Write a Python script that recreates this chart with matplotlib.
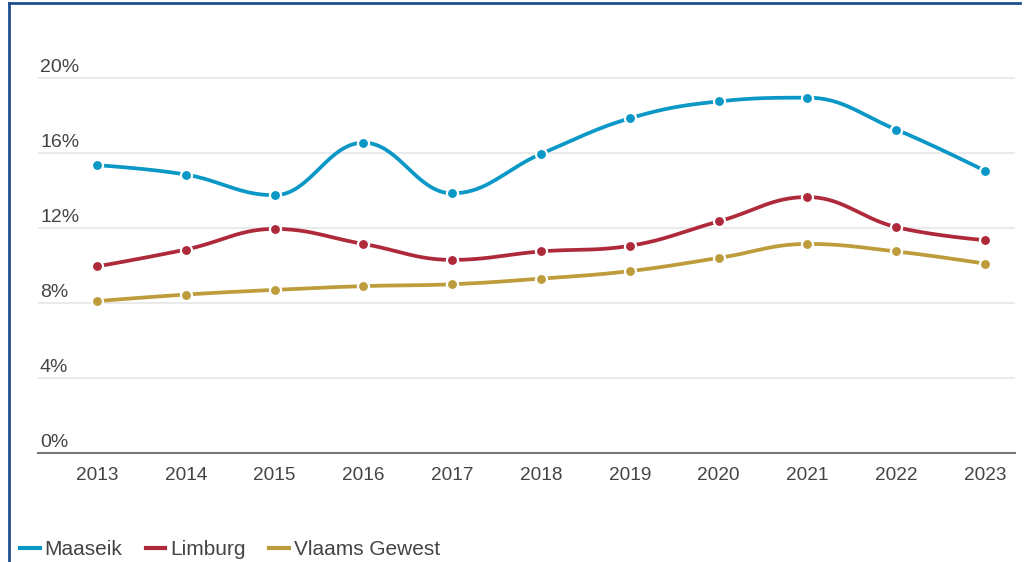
import numpy as np
import matplotlib
matplotlib.use("Agg")
import matplotlib.pyplot as plt
from matplotlib.lines import Line2D

years = [2013, 2014, 2015, 2016, 2017, 2018, 2019, 2020, 2021, 2022, 2023]
maaseik = [15.35, 14.85, 13.75, 16.55, 13.85, 15.95, 17.85, 18.75, 18.95, 17.25, 15.05]
limburg = [9.95, 10.85, 11.95, 11.15, 10.3, 10.75, 11.05, 12.35, 13.65, 12.05, 11.35]
vlaams = [8.1, 8.45, 8.7, 8.9, 9.0, 9.3, 9.7, 10.4, 11.15, 10.75, 10.1]
series_names = ["Maaseik", "Limburg", "Vlaams Gewest"]
colors = ["#0b98c6", "#ae2a3b", "#bd9c3b"]
y_ticks = [0, 4, 8, 12, 16, 20]

plt.rcParams['font.family'] = ['Liberation Sans', 'DejaVu Sans']


# spline like the web chart library draws it (smoothing 1.5, no false extremes)
def spline(xs, ys, n=40):
    xs = list(map(float, xs))
    ys = list(map(float, ys))
    k = len(xs)
    lc = [None] * k
    rc = [None] * k
    s = 1.5
    d = s + 1
    for i in range(1, k - 1):
        x, y = xs[i], ys[i]
        lx = (s * x + xs[i - 1]) / d
        ly = (s * y + ys[i - 1]) / d
        rx = (s * x + xs[i + 1]) / d
        ry = (s * y + ys[i + 1]) / d
        corr = (ry - ly) * (rx - x) / (rx - lx) + y - ry
        ly += corr
        ry += corr
        py, ny = ys[i - 1], ys[i + 1]
        if ly > py and ly > y:
            ly = max(py, y)
            ry = 2 * y - ly
        elif ly < py and ly < y:
            ly = min(py, y)
            ry = 2 * y - ly
        if ry > ny and ry > y:
            ry = max(ny, y)
            ly = 2 * y - ry
        elif ry < ny and ry < y:
            ry = min(ny, y)
            ly = 2 * y - ry
        lc[i] = (lx, ly)
        rc[i] = (rx, ry)
    px, py_ = [], []
    t = np.linspace(0, 1, n)
    for i in range(1, k):
        p0 = (xs[i - 1], ys[i - 1])
        p1 = rc[i - 1] if rc[i - 1] else p0
        p3 = (xs[i], ys[i])
        p2 = lc[i] if lc[i] else p3
        bx = (1 - t) ** 3 * p0[0] + 3 * (1 - t) ** 2 * t * p1[0] + 3 * (1 - t) * t ** 2 * p2[0] + t ** 3 * p3[0]
        by = (1 - t) ** 3 * p0[1] + 3 * (1 - t) ** 2 * t * p1[1] + 3 * (1 - t) * t ** 2 * p2[1] + t ** 3 * p3[1]
        px.extend(bx)
        py_.extend(by)
    return px, py_


W, H = 1024, 562
fig = plt.figure(figsize=(W / 100, H / 100), dpi=100)

# plot area in pixels
left, right, top, bottom = 38, 1015, 30, 453
ax = fig.add_axes([left / W, 1 - bottom / H, (right - left) / W, (bottom - top) / H])

step = (985 - 97) / 10.0
ax.set_xlim(2013 - (97 - left) / step, 2023 + (right - 985) / step)
ppu = (453 - 78) / 20.0
ax.set_ylim(0, 20 + (78 - top) / ppu)

for yt in y_ticks[1:]:
    ax.axhline(yt, color="#e6e6e6", lw=1.2, zorder=0)

for vals, c in zip([maaseik, limburg, vlaams], colors):
    sx, sy = spline(years, vals)
    ax.plot(sx, sy, color=c, lw=2.7, solid_capstyle="round", zorder=2)
    ax.plot(years, vals, "o", color=c, ms=8, mec="white", mew=1.6, zorder=3)

for spine in ["top", "right", "left"]:
    ax.spines[spine].set_visible(False)
ax.spines["bottom"].set_color("#777777")
ax.spines["bottom"].set_linewidth(1.5)

ax.set_yticks([])
for yt in y_ticks:
    ax.text((40 - left) / (right - left), yt + 2 / ppu, f"{yt}%",
            transform=ax.get_yaxis_transform(),
            fontsize=14, color="#444444", ha="left", va="bottom")

ax.set_xticks(years)
ax.set_xticklabels([str(y) for y in years], fontsize=13.7, color="#444444")
ax.tick_params(axis="x", length=0, pad=10)

# legend
handles = [Line2D([0], [0], color=c, lw=3) for c in colors]
fig.legend(handles, series_names, loc="lower left", bbox_to_anchor=(1 / W, -0.028),
           ncol=3, frameon=False, fontsize=15, handlelength=0.95, handletextpad=0.25,
           columnspacing=1.1, labelcolor="#444444")

# border frame (top and left)
fig.add_artist(Line2D([9 / W, 9 / W], [0, 1 - 3 / H], color="#1f4e8c", lw=2))
fig.add_artist(Line2D([9 / W, 1020 / W], [1 - 3 / H, 1 - 3 / H], color="#1f4e8c", lw=2))

fig.savefig("out.png", dpi=100)
